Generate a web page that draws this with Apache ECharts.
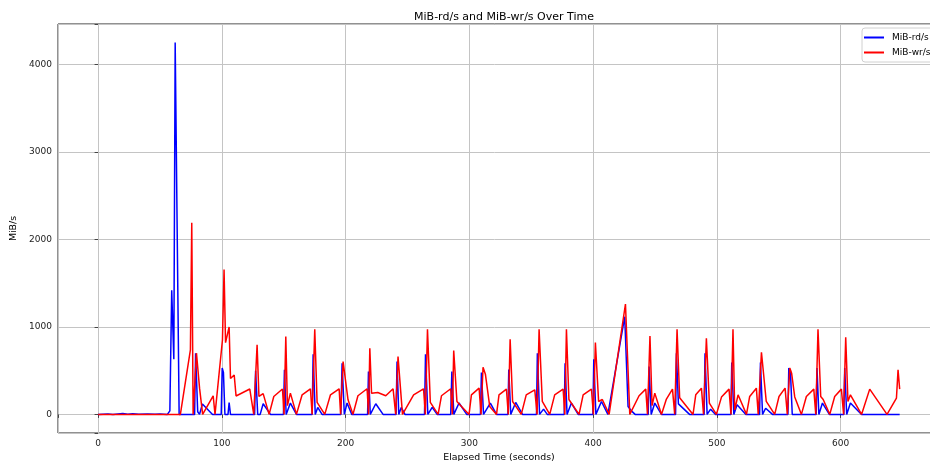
<!DOCTYPE html>
<html>
<head>
<meta charset="utf-8">
<script src="https://cdn.jsdelivr.net/npm/echarts@6/dist/echarts.min.js"></script>
<style>
  html, body { margin: 0; padding: 0; background: #fff; }
  #chart { width: 930px; height: 461px; }
</style>
</head>
<body>
<div id="chart"></div>
<script>
// elapsed time (s) and MiB-rd/s samples
const rdTime = [0, 8, 12, 20, 24, 28, 33, 40, 46, 50, 56, 58, 59.5, 60.3, 61.2, 62.3, 63.7, 65.5,
  78, 78.8, 79.5, 80.5, 82, 84.3, 92.5, 99.5, 100.3, 101.3, 102.5, 105, 105.9, 107,
  126.5, 127.3, 129, 131, 133.4, 139.3, 149.8, 150.6, 152, 155.4, 160.3,
  173, 173.8, 175.5, 177.5, 181, 196.2, 197.2, 199, 201.2, 205,
  217.8, 218.5, 220, 224.4, 230.3, 240.8, 241.6, 243, 245, 248,
  263.8, 264.6, 266.5, 270, 274, 285, 285.9, 287.5, 291.7, 297.9,
  309, 309.8, 311.5, 317, 322, 331.2, 331.9, 333.5, 337.5, 343,
  354.3, 355, 356.8, 360, 363, 376.7, 377.4, 379, 382.5, 388,
  399.9, 400.6, 402.3, 406.8, 412, 425.6, 428.3, 431, 434,
  444.6, 445.3, 447, 449.9, 455.3, 466.7, 467.4, 469, 470.5, 478,
  489.8, 490.5, 492.2, 495, 499, 511.4, 512.1, 513.8, 516.4, 523.5,
  534.6, 535.3, 537, 539.5, 545, 557.5, 558.2, 559.5, 561,
  580.3, 581, 582.5, 585.4, 591, 602.7, 603.4, 605, 608, 617, 647.8];
const rdMiB = [0, 5, 0, 10, 2, 8, 3, 5, 2, 6, 0, 40, 1420, 1400, 630, 4250, 4250, 0,
  0, 700, 690, 30, 0, 120, 0, 0, 530, 480, 0, 0, 135, 0,
  0, 500, 0, 0, 122, 0, 0, 509, 0, 130, 0,
  0, 688, 0, 80, 0, 0, 585, 0, 130, 0,
  0, 490, 0, 122, 0, 0, 604, 0, 80, 0,
  0, 688, 0, 80, 0, 0, 490, 0, 130, 0,
  0, 479, 0, 130, 0, 0, 513, 0, 137, 0,
  0, 700, 0, 60, 0, 0, 585, 0, 130, 0,
  0, 631, 0, 148, 0, 1117, 91, 40, 0,
  0, 547, 0, 130, 0, 0, 700, 120, 100, 0,
  0, 700, 0, 60, 0, 0, 593, 0, 110, 0,
  0, 593, 0, 70, 0, 0, 529, 500, 0,
  0, 529, 0, 130, 0, 0, 529, 0, 130, 0, 0];

// elapsed time (s) and MiB-wr/s samples
const wrTime = [0, 66.5, 74.6, 75.7, 76.8, 78, 79.5, 82, 84.5, 93, 94.5,
  100.5, 101.8, 103, 104.5, 105.9, 107, 108.5, 110, 111.5, 122.6, 125.8,
  128.5, 130, 133.4, 138.2, 142, 149, 150.3, 151.7, 153, 155.4, 160.3,
  164.9, 171.6, 173, 175.1, 177, 183.2, 187.8, 194.8, 196, 198, 202, 206,
  210, 217.4, 218.6, 219.6, 221, 226, 232.5, 238.4, 240.5, 242.4, 246,
  255, 263, 264.5, 266.2, 268.5, 274.8, 277.5, 285, 286.3, 287.4, 290, 292, 299.8,
  301.7, 307.9, 309.5, 311.1, 313, 316.5, 322, 324, 330, 331.5, 333, 335, 342,
  346, 352.9, 354.8, 356.4, 359, 365, 369, 375.8, 377.2, 378.5, 380.5, 388.7,
  392, 398.7, 400.3, 401.9, 404.5, 407.5, 413, 426.2, 429.7,
  437.2, 442.6, 444, 446, 447.7, 449.9, 455.3, 459.3, 464.2, 466, 467.9, 470, 471.5, 480.8,
  483, 487.6, 489.3, 491.6, 494, 499.7, 503.8, 509.9, 511.5, 513.1, 514.5, 517.2, 524,
  526.6, 532, 533.5, 536.1, 540, 546.8, 550.3, 555.2, 557, 559, 560.5, 563, 568.4,
  572.4, 578.4, 580, 581.8, 584, 586, 591.3, 595.3, 600.7, 602.5, 604.2, 606, 608, 617,
  623.6, 637.6, 645.2, 646.5, 647.8];
const wrMiB = [0, 0, 737, 2190, 0, 0, 700, 300, 0, 213, 0,
  850, 1655, 820, 800, 1000, 410, 395, 450, 210, 290, 0,
  795, 205, 238, 0, 205, 290, 0, 889, 100, 243, 0,
  224, 293, 0, 973, 137, 0, 224, 293, 0, 604, 167, 0,
  213, 293, 0, 756, 243, 250, 213, 293, 0, 661, 0,
  224, 293, 0, 973, 137, 0, 213, 293, 0, 730, 148, 115, 0,
  224, 300, 0, 540, 460, 91, 0, 224, 290, 0, 859, 148, 0,
  224, 281, 0, 973, 148, 0, 224, 290, 0, 973, 170, 0,
  224, 290, 0, 821, 148, 170, 0, 1262, 0,
  213, 289, 0, 897, 100, 243, 0, 175, 289, 0, 973, 190, 200, 0,
  224, 300, 0, 870, 130, 0, 198, 289, 0, 973, 50, 224, 0,
  205, 300, 0, 711, 148, 0, 205, 300, 0, 529, 470, 200, 0,
  205, 289, 0, 973, 205, 170, 0, 205, 289, 0, 882, 148, 224, 0,
  289, 0, 187, 509, 289];

const seriesNames = ['MiB-rd/s', 'MiB-wr/s'];
const seriesColors = ['#0000ff', '#ff0000'];

const pairs = (ts, vs) => ts.map((t, i) => [t, vs[i]]);

const chart = echarts.init(document.getElementById('chart'), null, { renderer: 'canvas' });

const font = 'DejaVu Sans';
const hideOdd = (step) => (v) => (Math.abs(v / step - Math.round(v / step)) < 1e-6 ? String(v) : '');

chart.setOption({
  animation: false,
  backgroundColor: '#ffffff',
  title: {
    text: 'MiB-rd/s and MiB-wr/s Over Time',
    left: 499,
    textAlign: 'center',
    top: 7,
    textStyle: { fontFamily: font, fontSize: 11, fontWeight: 'normal', color: '#000' },
  },
  legend: {
    data: seriesNames,
    orient: 'vertical',
    left: 862,
    top: 28,
    padding: [4, 8, 4, 2],
    itemGap: 4,
    itemWidth: 20,
    itemHeight: 2,
    icon: 'rect',
    backgroundColor: 'rgba(255,255,255,0.8)',
    borderColor: '#d0d0d0',
    borderWidth: 1,
    borderRadius: 3,
    textStyle: { fontFamily: font, fontSize: 9, lineHeight: 11, color: '#000', padding: [0, 0, 0, 3] },
  },
  grid: {
    left: 58, top: 24, width: 882, height: 409,
    outerBoundsMode: 'none', containLabel: false,
    show: true, borderColor: '#222', borderWidth: 1,
  },
  xAxis: {
    type: 'value',
    min: -32.4,
    max: 680.4,
    splitNumber: 7,
    name: 'Elapsed Time (seconds)',
    nameLocation: 'middle',
    nameGap: 18,
    nameTextStyle: { fontFamily: font, fontSize: 9.4, color: '#000' },
    axisLine: { show: false },
    axisTick: { show: true, inside: false, length: 3.5, lineStyle: { color: '#444' } },
    axisLabel: { fontFamily: font, fontSize: 9, color: '#222', margin: 6, formatter: hideOdd(100) },
    splitLine: { show: true, lineStyle: { color: '#c4c4c4', width: 1 } },
  },
  yAxis: {
    type: 'value',
    min: -212.5,
    max: 4462.5,
    splitNumber: 5,
    name: 'MiB/s',
    nameLocation: 'middle',
    nameGap: 34,
    nameTextStyle: { fontFamily: font, fontSize: 9.4, color: '#000' },
    axisLine: { show: false },
    axisTick: { show: true, inside: false, length: 3.5, lineStyle: { color: '#444' } },
    axisLabel: { fontFamily: font, fontSize: 9, color: '#222', margin: 6, formatter: hideOdd(1000) },
    splitLine: { show: true, lineStyle: { color: '#c4c4c4', width: 1 } },
  },
  series: [
    {
      name: seriesNames[0],
      type: 'line',
      data: pairs(rdTime, rdMiB),
      symbol: 'none',
      color: seriesColors[0],
      lineStyle: { width: 1.5, color: seriesColors[0] },
    },
    {
      name: seriesNames[1],
      type: 'line',
      data: pairs(wrTime, wrMiB),
      symbol: 'none',
      color: seriesColors[1],
      lineStyle: { width: 1.5, color: seriesColors[1] },
    },
  ],
});
</script>
</body>
</html>
